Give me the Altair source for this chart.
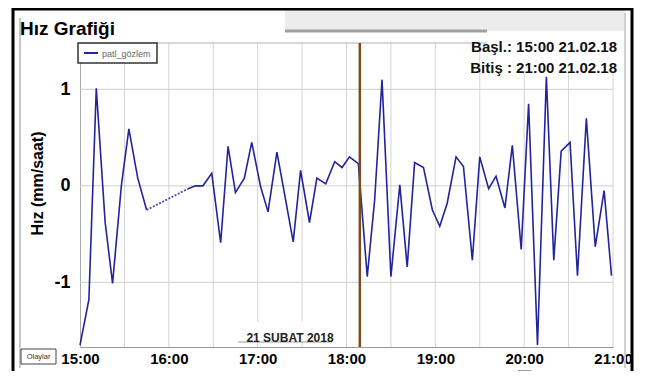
import altair as alt
import pandas as pd

# ---- data ----
times = ["15:00", "15:06", "15:11", "15:17", "15:22", "15:28", "15:33", "15:39", "15:45",
         "16:13", "16:18", "16:23", "16:29", "16:35", "16:40", "16:45", "16:51", "16:56",
         "17:02", "17:07", "17:13", "17:18", "17:24", "17:29", "17:35", "17:40", "17:46",
         "17:52", "17:57", "18:02", "18:08", "18:14", "18:19", "18:24", "18:30", "18:36",
         "18:41", "18:46", "18:52", "18:58", "19:03", "19:08", "19:14", "19:19", "19:25",
         "19:30", "19:36", "19:41", "19:47", "19:52", "19:58", "20:03", "20:09", "20:15",
         "20:20", "20:25", "20:31", "20:36", "20:42", "20:48", "20:54", "20:59"]
values = [-1.65, -1.18, 1.01, -0.38, -1.01, 0.01, 0.59, 0.08, -0.25,
          -0.03, 0.00, 0.00, 0.13, -0.59, 0.41, -0.07, 0.08, 0.45,
          -0.01, -0.27, 0.35, -0.07, -0.58, 0.16, -0.38, 0.08, 0.02,
          0.25, 0.19, 0.30, 0.23, -0.94, -0.15, 1.10, -0.94, 0.01,
          -0.84, 0.24, 0.19, -0.25, -0.42, -0.18, 0.30, 0.20, -0.77,
          0.30, -0.03, 0.10, -0.23, 0.42, -0.66, 0.85, -1.65, 1.13,
          -0.77, 0.36, 0.45, -0.93, 0.70, -0.63, -0.05, -0.93]
gap_start = 9  # number of points before the dotted (missing data) stretch
marker_time = "18:09"
x_grid_minutes = [30, 60, 90, 120, 150, 180, 210, 240, 270, 300, 330, 360]
x_label_minutes = [0, 60, 120, 180, 240, 300, 360]
y_ticks = [-1, 0, 1]

title_text = "Hız Grafiği"
y_title = "Hız (mm/saat)"
legend_label = "patl_gözlem"
start_text = "Başl.: 15:00 21.02.18"
end_text = "Bitiş : 21:00 21.02.18"
date_text = "21 SUBAT 2018"
events_text = "Olaylar"

FONT = "Liberation Sans, Arial, sans-serif"
NAVY = "#23239b"
W, H = 533, 304


def to_min(s):
    h, m = s.split(":")
    return (int(h) - 15) * 60 + int(m)


df = pd.DataFrame({
    "t": [to_min(s) for s in times],
    "v": values,
    "seg": ["a"] * gap_start + ["b"] * (len(times) - gap_start),
})
dot_df = df.iloc[gap_start - 1:gap_start + 1]
marker_df = pd.DataFrame({"t": [to_min(marker_time)]})
xgrid_df = pd.DataFrame({"t": x_grid_minutes})
ygrid_df = pd.DataFrame({"v": y_ticks})
one = pd.DataFrame({"k": [0]})

xscale = alt.Scale(domain=[0, 360], nice=False, zero=False)
yscale = alt.Scale(domain=[-1.67, 1.48], nice=False, zero=False)

xaxis = alt.Axis(values=x_label_minutes, title=None, grid=False, ticks=False,
                 labelFlush=False, labelOverlap=False, labelPadding=4,
                 labelBaseline="top", labelFont=FONT, labelFontSize=15,
                 labelFontWeight="bold", labelColor="black",
                 labelExpr="(15 + datum.value / 60) + ':00'",
                 domainColor="#9a9a9a")
yaxis = alt.Axis(values=y_ticks, title=y_title, grid=False, ticks=False,
                 labelPadding=10, labelFont=FONT, labelFontSize=18,
                 labelFontWeight="bold", labelColor="black",
                 labelExpr="'' + datum.value",
                 titleFont=FONT, titleFontSize=16, titleFontWeight="bold",
                 titleColor="black", titleAngle=270, titleX=-43, titleY=140,
                 titleAlign="center", titleBaseline="middle",
                 domainColor="#a8a8a8")
X = alt.X("t:Q", scale=xscale, axis=xaxis)
Y = alt.Y("v:Q", scale=yscale, axis=yaxis)


def rect(x, x2, y, y2, **kw):
    return alt.Chart(one).mark_rect(**kw).encode(
        x=alt.value(x), x2=alt.value(x2), y=alt.value(y), y2=alt.value(y2))


def text(s, x, y, **kw):
    return alt.Chart(one).mark_text(text=s, font=FONT, **kw).encode(
        x=alt.value(x), y=alt.value(y))


def hrule(x, x2, y, **kw):
    return alt.Chart(one).mark_rule(**kw).encode(
        x=alt.value(x), x2=alt.value(x2), y=alt.value(y))


def vrule(x, y, y2, **kw):
    return alt.Chart(one).mark_rule(**kw).encode(
        x=alt.value(x), y=alt.value(y), y2=alt.value(y2))


# grid lines
xgrid = alt.Chart(xgrid_df).mark_rule(color="#d4d4d4", strokeWidth=1).encode(
    x=X, y=alt.value(0), y2=alt.value(H))
ygrid = alt.Chart(ygrid_df).mark_rule(color="#cfcfcf", strokeWidth=1).encode(
    y=Y, x=alt.value(0), x2=alt.value(W))

# decorations
band = rect(205, 545, -38, -12, fill="#ececec")
band_line = hrule(205, 407, -12, stroke="#a0a0a0", strokeWidth=3)
panel_left = vrule(-60, -25, 325, stroke="#c8c8c8", strokeWidth=2)
panel_right = vrule(545, -30, 325, stroke="#cfcfcf", strokeWidth=2)
scroll = rect(-60, 545, 329, 345, fill="#efefef", stroke="#c0c0c0", strokeWidth=1)
thumb = rect(437, 452, 327, 337, fill="#9a9a9a", cornerRadius=2)
events_box = rect(-59, -24, 306, 321, fill="white", stroke="#444444", strokeWidth=1)
events_lbl = text(events_text, -41.5, 313.5, fontSize=7.5, color="#333333", baseline="middle")
top_border = hrule(0, 407, 0, stroke="#b0b0b0", strokeWidth=1)

# date label box
date_box = rect(160, 258, 279, 299, fill="white")
date_line = hrule(158, 252, 299, stroke="#9a9a9a", strokeWidth=1)
date_lbl = text(date_text, 210, 295, fontSize=12, fontWeight="bold", color="#222222")

# main series
base = alt.Chart(df).mark_line(color=NAVY, strokeWidth=1.6).encode(x=X, y=Y, detail="seg:N")
dotted = alt.Chart(dot_df).mark_line(color="#4a4ab0", strokeWidth=1.8, strokeDash=[2, 1.5]).encode(x=X, y=Y)
marker = alt.Chart(marker_df).mark_rule(color="#7b4a1f", strokeWidth=2.5).encode(
    x=X, y=alt.value(0), y2=alt.value(H))

# legend
leg_box = rect(-2, 77, 0, 20, fill="white", stroke="#333333", strokeWidth=1.5)
leg_line = hrule(4, 18, 10, stroke=NAVY, strokeWidth=2)
leg_txt = text(legend_label, 22, 10.5, fontSize=9, color="#666666", align="left", baseline="middle")

# start / end box
se_box = rect(407, 543, -10, 28, fill="white")
start_lbl = text(start_text, 537, 4, fontSize=15, fontWeight="bold", color="#111111", align="right")
end_lbl = text(end_text, 537, 25, fontSize=15, fontWeight="bold", color="#111111", align="right")

# title and outer frame
title = text(title_text, -60, -14, fontSize=19, fontWeight="bold", color="black", align="left")
frame = rect(-67, 552, -34, 360, fillOpacity=0, stroke="black", strokeWidth=3)

chart = alt.layer(
    xgrid, ygrid,
    band, band_line, panel_left, panel_right, scroll, thumb, events_box, events_lbl,
    top_border, date_box, date_line,
    base, dotted, marker,
    date_lbl,
    leg_box, leg_line, leg_txt,
    se_box, start_lbl, end_lbl,
    title, frame,
).properties(
    width=W, height=H,
    autosize=alt.AutoSizeParams(type="none"),
    padding={"left": 72, "top": 35, "right": 24, "bottom": 24},
    background="white",
).configure_view(stroke=None)

chart.save("out.html", embed_options={"renderer": "svg", "actions": False})
